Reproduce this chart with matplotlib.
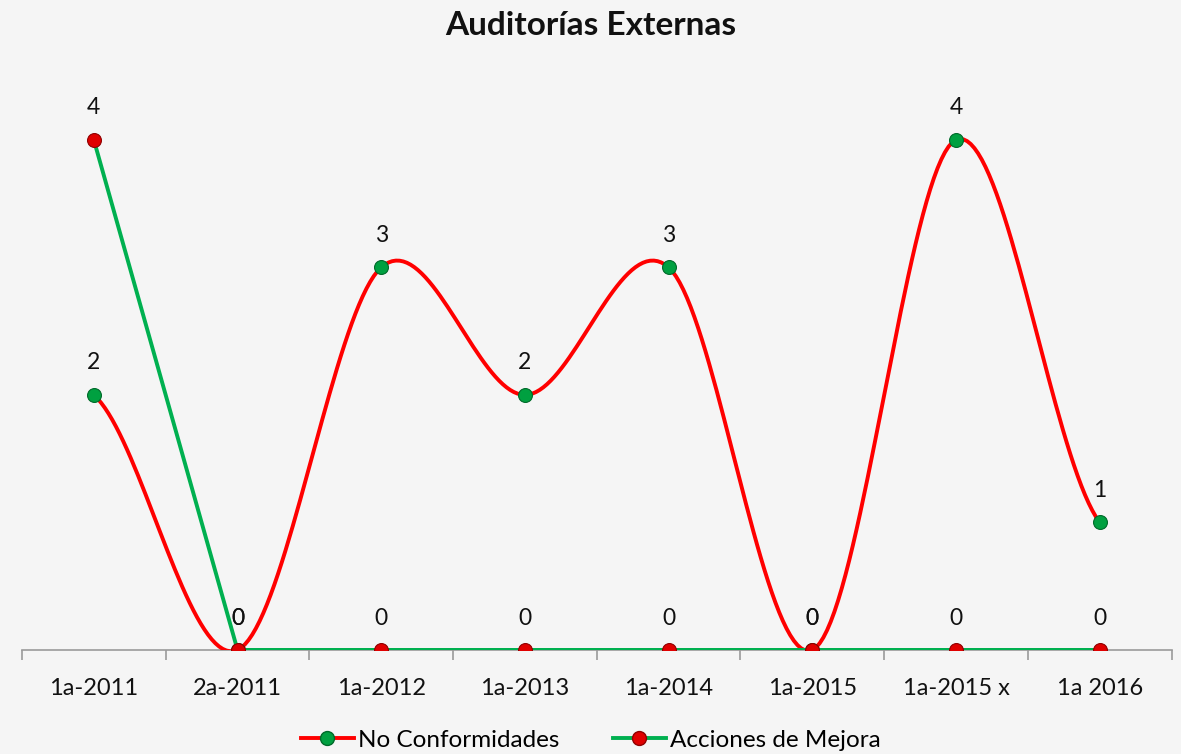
import matplotlib
matplotlib.use("Agg")
import matplotlib.pyplot as plt
import numpy as np
from matplotlib.ticker import FixedLocator, NullFormatter

categories = ["1a-2011", "2a-2011", "1a-2012", "1a-2013", "1a-2014", "1a-2015", "1a-2015 x", "1a 2016"]
no_conformidades = [2, 0, 3, 2, 3, 0, 4, 1]
acciones_mejora = [4, 0, 0, 0, 0, 0, 0, 0]

RED = "#ff0000"
GREEN = "#00b050"

plt.rcParams["font.family"] = ["Lato", "DejaVu Sans"]


def smooth(xs, ys, n=40):
    # catmull-rom style bezier smoothing like excel's "smoothed line"
    xs = np.asarray(xs, float)
    ys = np.asarray(ys, float)
    px = np.concatenate([[2 * xs[0] - xs[1]], xs, [2 * xs[-1] - xs[-2]]])
    py = np.concatenate([[ys[0]], ys, [ys[-1]]])
    ox, oy = [], []
    t = np.linspace(0, 1, n)
    for i in range(1, len(px) - 2):
        p0 = np.array([px[i], py[i]])
        p3 = np.array([px[i + 1], py[i + 1]])
        p1 = p0 + (np.array([px[i + 1], py[i + 1]]) - np.array([px[i - 1], py[i - 1]])) / 6
        p2 = p3 - (np.array([px[i + 2], py[i + 2]]) - np.array([px[i], py[i]])) / 6
        b = ((1 - t) ** 3)[:, None] * p0 + (3 * (1 - t) ** 2 * t)[:, None] * p1 \
            + (3 * (1 - t) * t ** 2)[:, None] * p2 + (t ** 3)[:, None] * p3
        ox.extend(b[:, 0])
        oy.extend(b[:, 1])
    return ox, oy


fig = plt.figure(figsize=(11.81, 7.54), dpi=100)
fig.patch.set_facecolor("#f5f5f5")
ax = fig.add_axes([0.0186, 0.138, 0.9734, 0.778])
ax.set_facecolor("none")

x = np.arange(len(categories))

sx, sy = smooth(x, no_conformidades)
ax.plot(sx, sy, color=RED, lw=2.8, zorder=3, solid_capstyle="round")
ax.plot(x, no_conformidades, ls="none", marker="o", ms=10, mfc="#00a040",
        mec="#006a2a", mew=0.8, zorder=4)

ax.plot(x, acciones_mejora, color=GREEN, lw=2.8, zorder=5)
ax.plot(x, acciones_mejora, ls="none", marker="o", ms=10, mfc="#e00000",
        mec="#900000", mew=0.8, zorder=6)

for xi, v in zip(x, no_conformidades):
    ax.annotate(str(v), (xi, v), xytext=(0, 23), textcoords="offset points",
                ha="center", va="center", fontsize=16.5, color="#111111")
for xi, v in zip(x, acciones_mejora):
    ax.annotate(str(v), (xi, v), xytext=(0, 23), textcoords="offset points",
                ha="center", va="center", fontsize=16.5, color="#111111")

ax.set_xlim(-0.5, len(categories) - 0.5)
ax.set_ylim(0, 4.6)
for s in ["top", "right", "left"]:
    ax.spines[s].set_visible(False)
ax.spines["bottom"].set_color("#9a9a9a")
ax.spines["bottom"].set_linewidth(1.2)
ax.set_yticks([])
ax.set_xticks(x)
ax.set_xticklabels(categories, fontsize=17, color="#111111")
ax.tick_params(axis="x", which="major", length=0, pad=20)
ax.xaxis.set_minor_locator(FixedLocator(np.arange(-0.5, len(categories), 1.0)))
ax.xaxis.set_minor_formatter(NullFormatter())
ax.tick_params(axis="x", which="minor", length=7, width=1.2, color="#9a9a9a")

fig.text(0.5, 0.966, "Auditorías Externas", ha="center", va="center",
         fontsize=24, fontweight="bold", color="#111111")

h1, = ax.plot([], [], color=RED, lw=2.8, marker="o", ms=10, mfc="#00a040", mec="#006a2a")
h2, = ax.plot([], [], color=GREEN, lw=2.8, marker="o", ms=10, mfc="#e00000", mec="#900000")
fig.legend([h1, h2], ["No Conformidades", "Acciones de Mejora"], loc="center",
           bbox_to_anchor=(0.5, 0.018), ncol=2, frameon=False, fontsize=17.5,
           handlelength=2.2, handletextpad=0.15, columnspacing=2.2)

fig.savefig("out.png", dpi=100, facecolor=fig.get_facecolor())
